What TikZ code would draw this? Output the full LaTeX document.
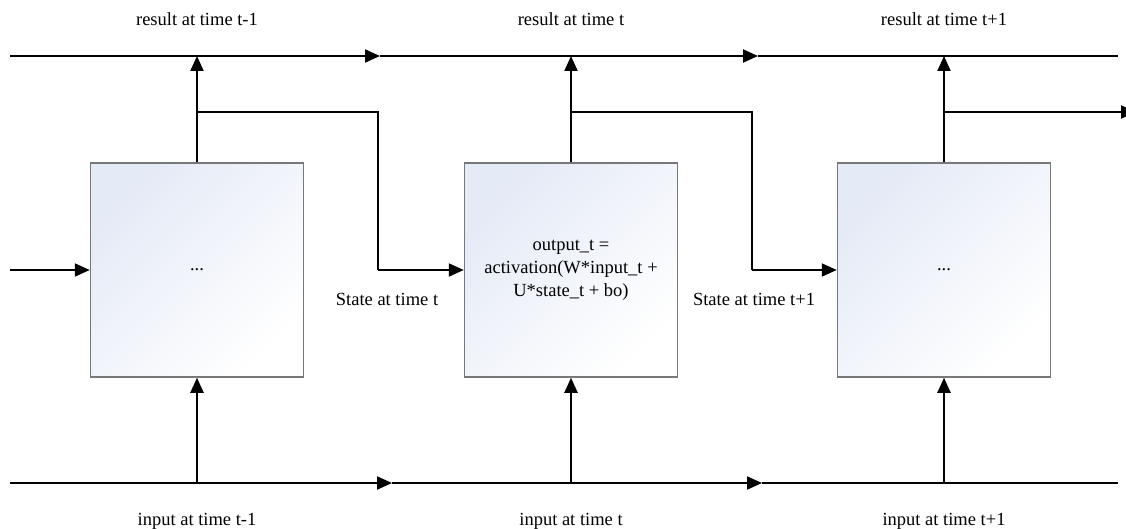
\documentclass[tikz,border=0pt]{standalone}
\usepackage{fontspec}
\setmainfont{Liberation Serif}
\usetikzlibrary{arrows.meta}
\definecolor{cellshade}{RGB}{228,234,246}
\definecolor{celledge}{RGB}{120,120,120}
\begin{document}
\begin{tikzpicture}[x=1pt,y=-1pt,
  every node/.style={font=\fontsize{18.5}{23}\selectfont},
  cell/.style={draw=celledge, line width=1.5pt, minimum width=213pt, minimum height=214pt,
    inner sep=0pt, top color=cellshade, bottom color=white, shading angle=45, align=center},
  wire/.style={line width=2pt},
  flow/.style={wire, -{Triangle[length=15pt,width=13pt]}},
  lbl/.style={inner sep=0pt, anchor=base}]
\useasboundingbox (0,0) rectangle (1126,529);

% the three recurrent cells
\node[cell] (c1) at (197,270) {...};
\node[cell] (c2) at (571,270) {output\_t =\\activation(W*input\_t +\\U*state\_t + bo)};
\node[cell] (c3) at (944,270) {...};

% result rail along the top
\coordinate (rL) at (10,56);
\coordinate (rA) at (380,56);
\coordinate (rB) at (758,56);
\coordinate (rR) at (1118,56);
\draw[flow] (rL) -- (rA);
\draw[flow] (rA) -- (rB);
\draw[wire] (rB) -- (rR);

% input rail along the bottom
\coordinate (iL) at (10,483);
\coordinate (iA) at (392,483);
\coordinate (iB) at (762,483);
\coordinate (iR) at (1118,483);
\draw[flow] (iL) -- (iA);
\draw[flow] (iA) -- (iB);
\draw[wire] (iB) -- (iR);

% inputs feeding each cell
\draw[flow] (c1.south |- iL) -- (c1.south);
\draw[flow] (c2.south |- iL) -- (c2.south);
\draw[flow] (c3.south |- iL) -- (c3.south);

% outputs rising to the result rail
\draw[flow] (c1.north) -- (c1.north |- rL);
\draw[flow] (c2.north) -- (c2.north |- rL);
\draw[flow] (c3.north) -- (c3.north |- rL);

% state passed to the next cell
\coordinate (s1) at (378,112);
\coordinate (s2) at (752,112);
\coordinate (s3) at (1136,112);
\draw[wire] (c1.north |- s1) -- (s1) -- (s1 |- c2.west);
\draw[flow] (s1 |- c2.west) -- (c2.west);
\draw[wire] (c2.north |- s2) -- (s2) -- (s2 |- c3.west);
\draw[flow] (s2 |- c3.west) -- (c3.west);
\draw[flow] (c3.north |- s3) -- (s3);

% incoming state on the left
\coordinate (s0) at (10,270);
\draw[flow] (s0) -- (c1.west);

% labels
\node[lbl] (t1) at (197,26) {result at time t-1};
\node[lbl] (t2) at (571,26) {result at time t};
\node[lbl] (t3) at (944,26) {result at time t+1};
\node[lbl] (b1) at (197,525) {input at time t-1};
\node[lbl] (b2) at (571,525) {input at time t};
\node[lbl] (b3) at (944,525) {input at time t+1};
\node[lbl] (st1) at (387,305) {State at time t};
\node[lbl] (st2) at (754,305) {State at time t+1};
\end{tikzpicture}
\end{document}
